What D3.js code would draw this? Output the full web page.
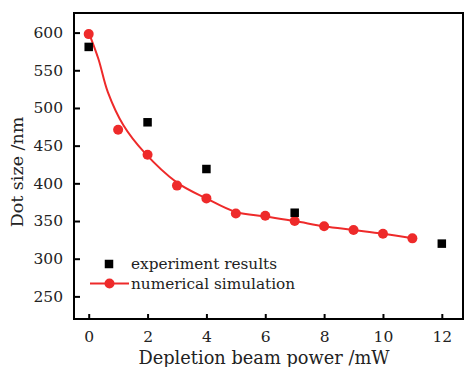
<!DOCTYPE html>
<html><head><meta charset="utf-8">
<script src="https://cdn.jsdelivr.net/npm/d3@7/dist/d3.min.js"></script>
<style>body{margin:0;background:#fff}svg{display:block}</style>
</head><body>
<script>
// Data
const expX = [0, 2, 4, 7, 12];
const expY = [581, 481, 419, 361, 320];
const simX = [0, 1, 2, 3, 4, 5, 6, 7, 8, 9, 10, 11];
const simY = [598, 471, 438, 397, 380, 360, 357, 350, 343, 338, 333, 327];
// fitted curve
const fitX = [0, 0.33, 0.65, 1.18, 1.89, 3, 4, 5, 6, 7, 8, 9, 10, 11];
const fitY = [600, 565, 521, 477, 441, 401, 380, 362, 356, 350, 343, 338, 333, 327];
const xTicks = [0, 2, 4, 6, 8, 10, 12];
const yTicks = [250, 300, 350, 400, 450, 500, 550, 600];
const legendLabels = ["experiment results", "numerical simulation"];

const W = 471, H = 367;
const m = {l: 74, t: 13, r: 463, b: 319};
const font = "DejaVu Serif";
const red = "#ee2a2a";

const svg = d3.select("body").append("svg").attr("width", W).attr("height", H);
const x = d3.scaleLinear().domain([-0.5, 12.72]).range([m.l, m.r]);
const y = d3.scaleLinear().domain([220, 626]).range([m.b, m.t]);

// axes
const ax = svg.append("g").attr("transform", `translate(0,${m.b})`)
  .call(d3.axisBottom(x).tickValues(xTicks).tickSize(-5).tickPadding(12).tickFormat(d3.format("d")));
const ay = svg.append("g").attr("transform", `translate(${m.l},0)`)
  .call(d3.axisLeft(y).tickValues(yTicks).tickSize(-6).tickPadding(11).tickFormat(d3.format("d")));
[ax, ay].forEach(g => {
  g.select(".domain").remove();
  g.selectAll(".tick line").attr("stroke", "#000").attr("stroke-width", 2);
  g.selectAll("text").attr("font-family", font).attr("font-size", 15.5).attr("fill", "#222");
});
ax.selectAll("text").attr("dy", "0.71em");

// frame
svg.append("rect").attr("x", m.l).attr("y", m.t).attr("width", m.r - m.l).attr("height", m.b - m.t)
  .attr("fill", "none").attr("stroke", "#000").attr("stroke-width", 2);

// fit curve
svg.append("path").datum(fitX.map((d, i) => [d, fitY[i]]))
  .attr("d", d3.line().x(d => x(d[0])).y(d => y(d[1])).curve(d3.curveCatmullRom.alpha(0.5)))
  .attr("fill", "none").attr("stroke", red).attr("stroke-width", 2);

// sim points
svg.append("g").selectAll("circle").data(simX).join("circle")
  .attr("cx", d => x(d)).attr("cy", (d, i) => y(simY[i])).attr("r", 5).attr("fill", red);

// exp squares
const s = 8.5;
svg.append("g").selectAll("rect").data(expX).join("rect")
  .attr("x", d => x(d) - s / 2).attr("y", (d, i) => y(expY[i]) - s / 2)
  .attr("width", s).attr("height", s).attr("fill", "#000");

// legend
const lg = svg.append("g");
lg.append("rect").attr("x", 109 - s / 2).attr("y", 264 - s / 2).attr("width", s).attr("height", s).attr("fill", "#000");
lg.append("line").attr("x1", 90).attr("x2", 129).attr("y1", 283.5).attr("y2", 283.5).attr("stroke", red).attr("stroke-width", 2);
lg.append("circle").attr("cx", 109.5).attr("cy", 283.5).attr("r", 5).attr("fill", red);
lg.selectAll("text").data(legendLabels).join("text")
  .attr("x", 131).attr("y", (d, i) => 268.5 + i * 20.5)
  .attr("font-family", font).attr("font-size", 15.3).attr("fill", "#222").text(d => d);

// titles
svg.append("text").attr("x", 264).attr("y", 364).attr("text-anchor", "middle")
  .attr("font-family", font).attr("font-size", 17.8).attr("fill", "#222").text("Depletion beam power /mW");
svg.append("text").attr("transform", "translate(23,172) rotate(-90)").attr("text-anchor", "middle")
  .attr("font-family", font).attr("font-size", 17.5).attr("fill", "#222").text("Dot size /nm");
</script>
</body></html>
